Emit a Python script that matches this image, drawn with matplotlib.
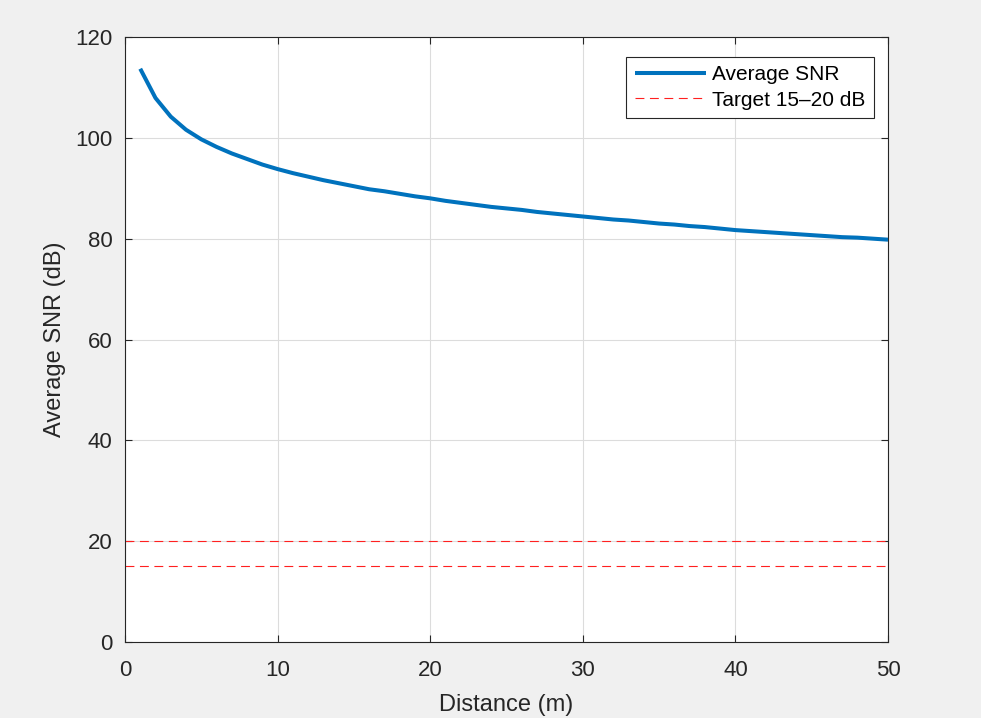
import numpy as np
import matplotlib.pyplot as plt

plt.rcParams['font.family'] = ['Liberation Sans', 'DejaVu Sans']

# distance (m) and averaged SNR (dB)
distance = list(range(1, 51))
avg_snr = [113.7, 107.9, 104.2, 101.6, 99.7, 98.2, 96.9, 95.8, 94.7, 93.8,
           93.0, 92.3, 91.6, 91.0, 90.4, 89.8, 89.4, 88.9, 88.4, 88.0,
           87.5, 87.1, 86.7, 86.3, 86.0, 85.7, 85.3, 85.0, 84.7, 84.4,
           84.1, 83.8, 83.6, 83.3, 83.0, 82.8, 82.5, 82.3, 82.0, 81.7,
           81.5, 81.3, 81.1, 80.9, 80.7, 80.5, 80.3, 80.2, 80.0, 79.8]
target_lo = 15
target_hi = 20

fig = plt.figure(figsize=(9.81, 7.18), dpi=100, facecolor='#f0f0f0')
ax = fig.add_axes([0.1274, 0.1058, 0.7778, 0.8427])
ax.set_facecolor('white')

ax.plot(distance, avg_snr, color='#0072BD', linewidth=2.9, label='Average SNR',
        solid_capstyle='butt', zorder=3)
ax.axhline(target_lo, color='#ff2020', linewidth=0.8, linestyle=(0, (8, 5)),
           label='Target 15\u201220 dB', zorder=2)
ax.axhline(target_hi, color='#ff2020', linewidth=0.8, linestyle=(0, (8, 5)), zorder=2)

ax.set_xlim(0, 50)
ax.set_ylim(0, 120)
ax.set_xticks(range(0, 51, 10))
ax.set_yticks(range(0, 121, 20))
ax.grid(True, color='#dcdcdc', linewidth=0.8)
ax.set_axisbelow(True)

ax.tick_params(direction='in', length=5, width=0.8, top=True, right=True,
               labelsize=16, colors='#262626')
ax.tick_params(axis='x', pad=13)
ax.tick_params(axis='y', pad=9)
for s in ax.spines.values():
    s.set_color('#262626')
    s.set_linewidth(0.8)

ax.set_xlabel('Distance (m)', fontsize=17, color='#262626', labelpad=9)
ax.set_ylabel('Average SNR (dB)', fontsize=17, color='#262626', labelpad=7)

leg = ax.legend(loc='upper right', bbox_to_anchor=(0.981, 0.967), fontsize=15,
                fancybox=False, framealpha=1, edgecolor='#262626',
                handlelength=3.4, borderpad=0.4, labelspacing=0.3,
                handletextpad=0.3, borderaxespad=0)
leg.get_frame().set_linewidth(0.8)

fig.savefig('out.png', dpi=100, facecolor=fig.get_facecolor())
